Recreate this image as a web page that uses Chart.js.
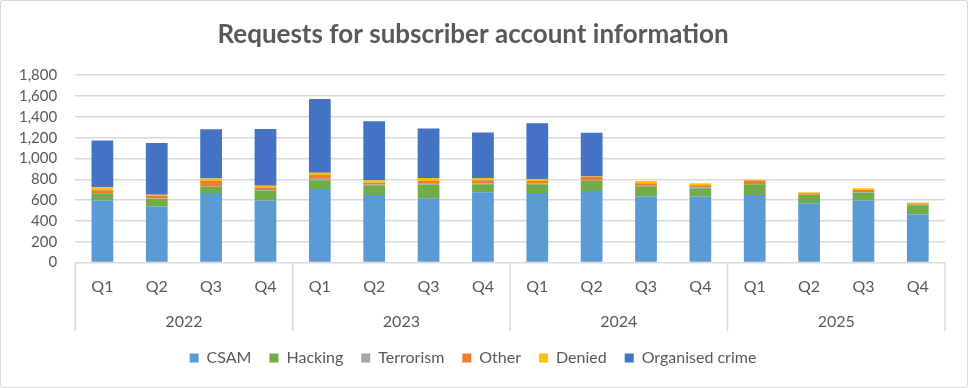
<!DOCTYPE html>
<html lang="en">
<head>
<meta charset="UTF-8">
<title>Requests for subscriber account information</title>
<script src="https://cdn.jsdelivr.net/npm/chart.js@4.4.1/dist/chart.umd.min.js"></script>
<style>
  body { margin: 0; background: #fff; }
  #wrap { width: 966px; height: 386px; border: 1px solid #d9d9d9; border-radius: 3px; }
</style>
</head>
<body>
<div id="wrap"><canvas id="chart" width="966" height="386"></canvas></div>
<script>
// quarters and years (two-level category axis)
const quarters = ['Q1','Q2','Q3','Q4','Q1','Q2','Q3','Q4','Q1','Q2','Q3','Q4','Q1','Q2','Q3','Q4'];
const years = ['2022', '2023', '2024', '2025'];

// values
const csam      = [597, 539, 669, 597, 708, 649, 617, 675, 669, 688, 636, 636, 649, 571, 597, 461];
const hacking   = [62, 71, 62, 95, 84, 95, 130, 78, 84, 95, 98, 78, 104, 78, 72, 91];
const terrorism = [10, 5, 3, 4, 13, 6, 10, 10, 10, 3, 3, 10, 3, 3, 6, 3];
const other     = [26, 26, 52, 26, 39, 16, 29, 29, 20, 36, 26, 20, 30, 14, 23, 13];
const denied    = [29, 10, 22, 16, 20, 26, 26, 20, 19, 6, 20, 19, 9, 9, 16, 10];
const organised = [448, 497, 474, 545, 708, 565, 477, 438, 536, 419, 0, 0, 0, 0, 0, 0];

const yTicks = [0, 200, 400, 600, 800, 1000, 1200, 1400, 1600, 1800];

const textColor = '#595959';
const gridColor = '#d9d9d9';
const font = 'Lato, "Open Sans", sans-serif';
const yearGap = 1; // extra room under the year row

// draws the year separators down through both label rows
const yearDividers = {
  id: 'yearDividers',
  afterDraw(chart) {
    const x = chart.scales.x, x2 = chart.scales.x2, y = chart.scales.y;
    const ctx = chart.ctx;
    ctx.save();
    ctx.strokeStyle = gridColor;
    ctx.lineWidth = 1.5;
    for (let i = 0; i <= years.length; i++) {
      let px;
      if (i === 0) px = x.left;
      else if (i === years.length) px = x.right;
      else px = (x.getPixelForTick(i * 4 - 1) + x.getPixelForTick(i * 4)) / 2;
      ctx.beginPath();
      ctx.moveTo(px, y.bottom);
      ctx.lineTo(px, x2.bottom - yearGap);
      ctx.stroke();
    }
    ctx.restore();
  }
};

function ds(label, data, color) {
  return { label: label, data: data, backgroundColor: color, categoryPercentage: 1, barPercentage: 0.4 };
}

new Chart(document.getElementById('chart'), {
  type: 'bar',
  data: {
    labels: quarters,
    datasets: [
      ds('CSAM', csam, '#5B9BD5'),
      ds('Hacking', hacking, '#70AD47'),
      ds('Terrorism', terrorism, '#A5A5A5'),
      ds('Other', other, '#ED7D31'),
      ds('Denied', denied, '#FFC000'),
      ds('Organised crime', organised, '#4472C4')
    ]
  },
  options: {
    responsive: false,
    animation: false,
    layout: { padding: { left: 0, right: 22, top: 6, bottom: 11 } },
    plugins: {
      title: {
        display: true,
        text: 'Requests for subscriber account information',
        color: textColor,
        font: { family: font, size: 26, weight: 'bold' },
        padding: { top: 12, bottom: 25 }
      },
      legend: {
        position: 'bottom',
        labels: {
          color: textColor,
          font: { family: font, size: 16 },
          boxWidth: 9,
          boxHeight: 9,
          padding: 18
        }
      },
      tooltip: { enabled: false }
    },
    scales: {
      x: {
        stacked: true,
        grid: { display: false },
        border: { display: false },
        ticks: { color: textColor, font: { family: font, size: 16 }, padding: 7, maxRotation: 0, autoSkip: false }
      },
      x2: {
        type: 'category',
        labels: years,
        position: 'bottom',
        offset: true,
        grid: { display: false },
        border: { display: false },
        ticks: { color: textColor, font: { family: font, size: 16 }, padding: 0 },
        afterFit(scale) { scale.height += yearGap; }
      },
      y: {
        stacked: true,
        min: 0,
        max: 1800,
        afterBuildTicks(scale) { scale.ticks = yTicks.map(v => ({ value: v })); },
        grid: { color: gridColor, lineWidth: 1.5, drawTicks: false },
        border: { display: false },
        ticks: {
          color: textColor,
          font: { family: font, size: 15 },
          padding: 18,
          autoSkip: false,
          callback: v => v.toLocaleString('en-US')
        }
      }
    }
  },
  plugins: [yearDividers]
});
</script>
</body>
</html>
